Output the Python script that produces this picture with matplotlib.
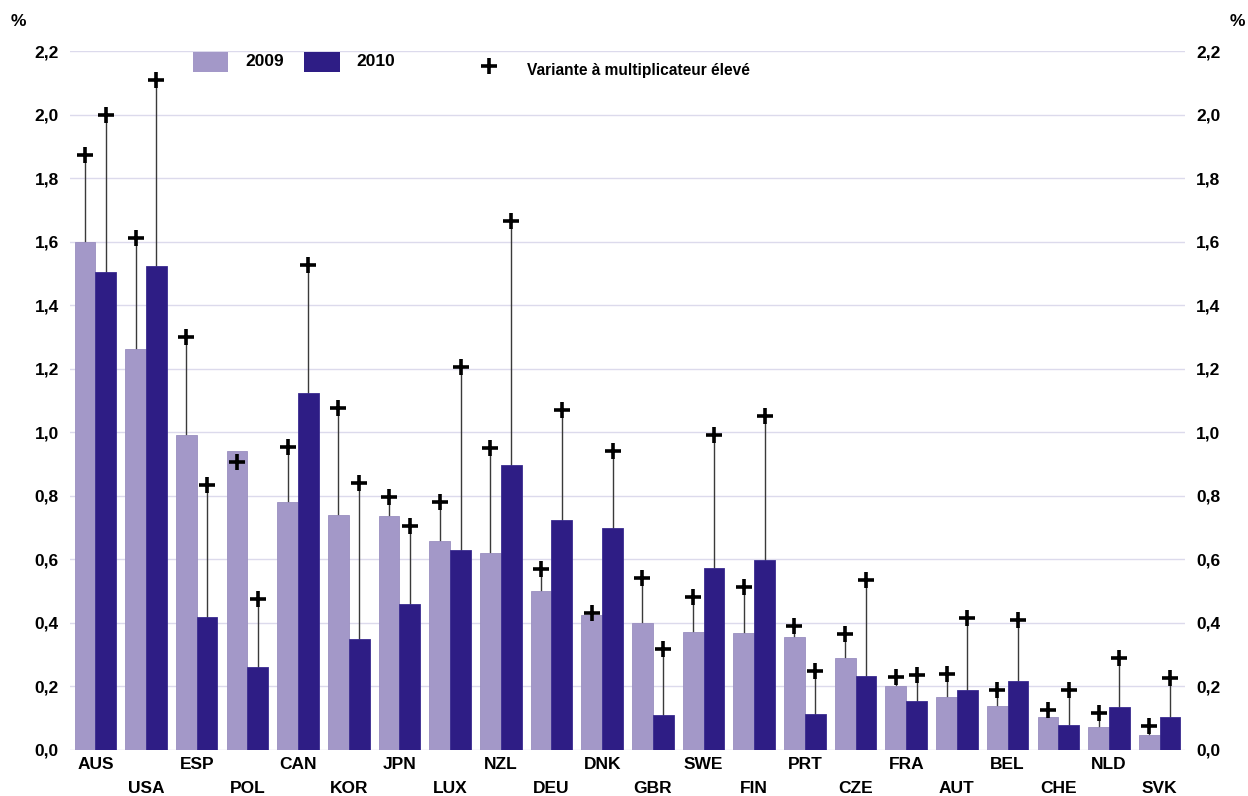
import matplotlib
matplotlib.use("Agg")
import matplotlib.pyplot as plt
from matplotlib.patches import Rectangle
from matplotlib.lines import Line2D
import numpy as np

countries = ["AUS", "USA", "ESP", "POL", "CAN", "KOR", "JPN", "LUX", "NZL", "DEU", "DNK",
             "GBR", "SWE", "FIN", "PRT", "CZE", "FRA", "AUT", "BEL", "CHE", "NLD", "SVK"]
v2009 = [1.60, 1.262, 0.99, 0.94, 0.78, 0.74, 0.737, 0.658, 0.62, 0.50, 0.425,
         0.40, 0.37, 0.368, 0.356, 0.29, 0.20, 0.167, 0.139, 0.104, 0.072, 0.047]
v2010 = [1.505, 1.523, 0.42, 0.26, 1.125, 0.35, 0.46, 0.63, 0.897, 0.724, 0.699,
         0.11, 0.573, 0.598, 0.113, 0.233, 0.155, 0.189, 0.217, 0.079, 0.135, 0.103]
high2009 = [1.873, 1.61, 1.30, 0.905, 0.955, 1.075, 0.795, 0.78, 0.95, 0.57, 0.43,
            0.54, 0.48, 0.513, 0.39, 0.365, 0.23, 0.24, 0.19, 0.126, 0.116, 0.076]
high2010 = [2.0, 2.11, 0.835, 0.475, 1.525, 0.84, 0.705, 1.205, 1.665, 1.07, 0.94,
            0.318, 0.99, 1.05, 0.25, 0.535, 0.236, 0.415, 0.41, 0.19, 0.29, 0.227]
yticks = [0.0, 0.2, 0.4, 0.6, 0.8, 1.0, 1.2, 1.4, 1.6, 1.8, 2.0, 2.2]

c09 = "#A398C8"
c10 = "#2E1D85"
grid_c = "#DCDAEC"

plt.rcParams['font.family'] = ['Liberation Sans', 'DejaVu Sans']

fig = plt.figure(figsize=(12.48, 7.96), dpi=100)
ax = fig.add_axes([70/1248, 1-750/796, (1185-70)/1248, (750-51)/796])

x = np.arange(len(countries))
w = 0.41

ax.vlines(x - w/2, 0, high2009, color="#3a3a3a", lw=1.0, zorder=1)
ax.vlines(x + w/2, 0, high2010, color="#3a3a3a", lw=1.0, zorder=1)
ax.bar(x - w/2, v2009, w, color=c09, edgecolor="#9A8FC0", lw=0.6, zorder=2)
ax.bar(x + w/2, v2010, w, color=c10, edgecolor="#3A2C90", lw=0.6, zorder=2)
ax.plot(x - w/2, high2009, ls="none", marker="+", ms=12, mew=2.6, color="black", zorder=4)
ax.plot(x + w/2, high2010, ls="none", marker="+", ms=12, mew=2.6, color="black", zorder=4)

ax.set_xlim(-0.5, len(countries) - 0.5)
ax.set_ylim(0, 2.2)
ax.set_yticks(yticks)
ax.set_yticklabels([f"{t:.1f}".replace(".", ",") for t in yticks], fontsize=12.5, fontweight="bold")
ax.tick_params(axis="y", length=0, pad=8, labelright=True, labelleft=True)
ax.grid(axis="y", color=grid_c, lw=1.0, zorder=0)
ax.set_axisbelow(True)
for s in ax.spines.values():
    s.set_visible(False)
ax.set_xticks([])

for i, c in enumerate(countries):
    yoff = -0.045 if i % 2 == 0 else -0.12
    ax.text(i, yoff, c, ha="center", va="center", fontsize=12.5, fontweight="bold",
            transform=ax.transData, clip_on=False)

fig.text(18/1248, 1-22/796, "%", ha="center", va="center", fontsize=12.5, fontweight="bold")
fig.text(1237/1248, 1-22/796, "%", ha="center", va="center", fontsize=12.5, fontweight="bold")

# legend
fig.patches.append(Rectangle((193/1248, 1-72/796), 35/1248, 20/796, transform=fig.transFigure,
                             facecolor=c09, edgecolor="none"))
fig.text(245/1248, 1-62/796, "2009", ha="left", va="center", fontsize=12.5, fontweight="bold")
fig.patches.append(Rectangle((304/1248, 1-72/796), 36/1248, 20/796, transform=fig.transFigure,
                             facecolor=c10, edgecolor="none"))
fig.text(356/1248, 1-62/796, "2010", ha="left", va="center", fontsize=12.5, fontweight="bold")
fig.lines.append(Line2D([489/1248], [1-66/796], transform=fig.transFigure, marker="+",
                        ms=12, mew=2.6, color="black", ls="none"))
fig.text(527/1248, 1-71/796, "Variante à multiplicateur élevé", ha="left", va="center",
         fontsize=11.2, fontweight="bold")

fig.savefig("out.png", dpi=100)
